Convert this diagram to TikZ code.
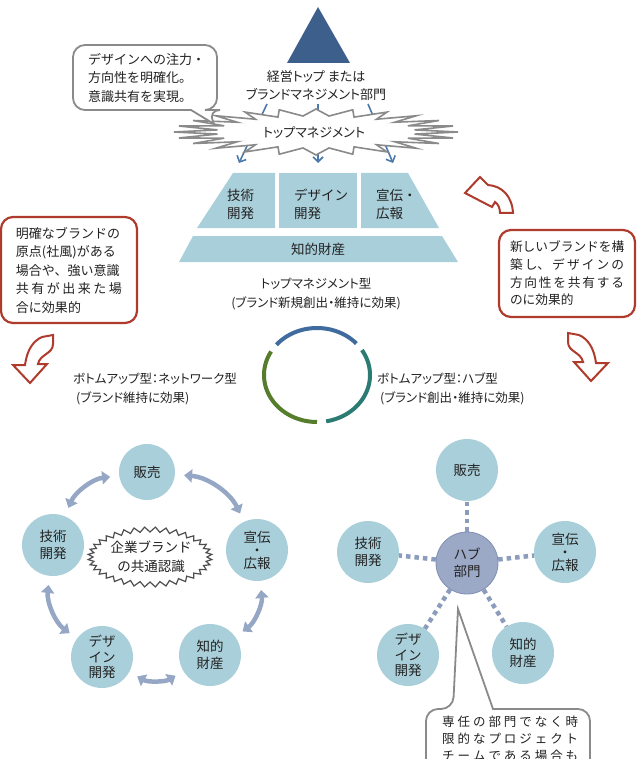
\documentclass[tikz,border=0pt]{standalone}
\usepackage{fontspec}
\setmainfont{Noto Sans CJK JP}
\newfontfamily\pfont{Noto Sans CJK JP}[RawFeature=+palt]
\usetikzlibrary{arrows.meta}
\definecolor{tri}{HTML}{3D5F8C}
\definecolor{lb}{HTML}{A9CFDA}
\definecolor{hubc}{HTML}{9BA8C6}
\definecolor{hubd}{HTML}{7F8EB2}
\definecolor{arr}{HTML}{95A7C4}
\definecolor{dotc}{HTML}{8C9CBC}
\definecolor{redb}{HTML}{AE3B2C}
\definecolor{grayb}{HTML}{8A8A8A}
\definecolor{blarr}{HTML}{4B79A9}
\definecolor{arcblue}{HTML}{3F6B9E}
\definecolor{arcteal}{HTML}{2B7B73}
\definecolor{arcgreen}{HTML}{557D2C}
\definecolor{txtc}{HTML}{222222}
\begin{document}
\begin{tikzpicture}[x=1pt,y=-1pt,
  every node/.style={text=txtc},
  btxt/.style={font=\fontsize{13}{18.5}\selectfont, inner sep=0pt, align=left},
  ptxt/.style={font=\pfont\fontsize{13}{18}\selectfont, inner sep=0pt, align=center},
  lbl/.style={font=\pfont\fontsize{12.5}{19}\selectfont, inner sep=0pt, align=left},
  cnode/.style={circle, fill=lb, draw=none, minimum size=62pt, inner sep=0pt, align=center, font=\fontsize{13.5}{17.5}\selectfont},
  hubnode/.style={cnode, fill=hubc, draw=hubd, line width=0.8pt},
  netarr/.style={draw=arr, line width=4.5pt, {Triangle[width=13pt,length=8pt]}-{Triangle[width=13pt,length=8pt]}, shorten <=9pt, shorten >=9pt},
  hubline/.style={draw=dotc, line width=4.5pt, dash pattern=on 4.5pt off 4pt},
  redbox/.style={draw=redb, line width=2.2pt, rounded corners=12pt, fill=white},
  grayline/.style={draw=grayb, line width=1.8pt, fill=white},
  curvarr/.style={draw=redb, line width=2pt, fill=white, line join=miter},
  blarrow/.style={draw=blarr, line width=1.6pt, -{Straight Barb[length=5pt,width=10pt]}},
  pyr/.style={fill=lb, draw=none}
]
\useasboundingbox (0,0) rectangle (640,759);
\clip (0,0) rectangle (640,759);

% ---------- top pyramid ----------
\fill[tri] (318,7) -- (350,63) -- (287,63) -- cycle;
\node[ptxt] (toptxt) at (316,86) {経営トップ または\\ブランドマネジメント部門};

\coordinate (a1s) at (267,104); \coordinate (a1e) at (239,163);
\coordinate (a2s) at (318,104); \coordinate (a2e) at (318,163);
\coordinate (a3s) at (368,104); \coordinate (a3e) at (393,163);
\draw[blarrow] (a1s) -- (a1e);
\draw[blarrow] (a2s) -- (a2e);
\draw[blarrow] (a3s) -- (a3e);

% starburst
\draw[grayline, line width=1.6pt] plot[samples=49, domain=0:360]
  ({316+142*cos(\x)*(1-0.3*mod(round(\x/7.5),2))},{132+23*sin(\x)*(1-0.3*mod(round(\x/7.5),2))}) -- cycle;
\node[ptxt] (tm) at (314,133) {トップマネジメント};

% top-left speech bubble
\draw[grayline, rounded corners=12pt] (140,45) -- (217,45) -- (217,110) -- (208,110)
  [sharp corners] -- (214,124) -- (191,110) [rounded corners=12pt] -- (73,110) -- (73,45) -- cycle;
\node[btxt, anchor=west] (bub1) at (88,78) {デザインへの注力・\\方向性を明確化。\\意識共有を実現。};

% pyramid blocks
\fill[pyr] (233,173) -- (275,173) -- (275,228) -- (197,228) -- cycle;
\fill[pyr] (279,173) -- (357,173) -- (357,228) -- (279,228) -- cycle;
\fill[pyr] (361,173) -- (408,173) -- (439,228) -- (361,228) -- cycle;
\fill[pyr] (193,236) -- (442,236) -- (458,262) -- (179,262) -- cycle;
\node[btxt, anchor=west, font=\fontsize{13.5}{18}\selectfont] (pg) at (227,204) {技術\\開発};
\node[btxt, anchor=west, font=\fontsize{13.5}{18}\selectfont] (pd) at (294,204) {デザイン\\開発};
\node[btxt, anchor=west, font=\fontsize{13.5}{18}\selectfont] (ps) at (376,204) {宣伝・\\広報};
\node[btxt, font=\fontsize{13.5}{18}\selectfont] (pc) at (318,249) {知的財産};

% ---------- red boxes & curved arrows ----------
\node[redbox, btxt, minimum width=136pt, minimum height=106pt, text width=106pt] (lbox) at (69,270)
 {明確なブランドの\\原点(社風)がある\\場合や、強い意識\\\makebox[106pt]{共\hfill 有\hfill が\hfill 出\hfill 来\hfill た\hfill 場}\\合に効果的};
\node[redbox, btxt, font=\fontsize{12.7}{17.7}\selectfont, minimum width=136pt, minimum height=87pt, text width=114pt] (rbox) at (567,273.5)
 {新しいブランドを構\\\makebox[114pt]{築\hfill し、\hfill デ\hfill ザ\hfill イ\hfill ン\hfill の}\\\makebox[114pt]{方\hfill 向\hfill 性\hfill を\hfill 共\hfill 有\hfill す\hfill る}\\のに効果的};

% left curved arrow
\draw[curvarr] (42,337) -- (53,335) -- (53,344) .. controls (53,354) and (40,354) .. (38,364)
  -- (47,364) -- (30,383) -- (13,365) -- (25,365) .. controls (27,350) and (33,341) .. (42,337) -- cycle;
% bottom-right curved arrow (mirror)
\begin{scope}[shift={(621,-2)}, xscale=-1]
\draw[curvarr] (42,337) -- (53,335) -- (53,344) .. controls (53,354) and (40,354) .. (38,364)
  -- (47,364) -- (30,383) -- (13,365) -- (25,365) .. controls (27,350) and (33,341) .. (42,337) -- cycle;
\end{scope}
% top-right curved arrow
\draw[curvarr] (500,213) -- (513,213) .. controls (512,196) and (502,186) .. (488,185) -- (480,177)
  -- (465,193) -- (492,207) -- (495,202) .. controls (498,204) and (500,208) .. (500,213) -- cycle;

% ---------- cycle ----------
\node[lbl, align=center] (tmtype) at (316,294) {トップマネジメント型\\(ブランド新規創出・維持に効果)};
\draw[arcblue, line width=4pt] plot[domain=42:140, samples=40] ({317+53*cos(\x)},{375-47*sin(\x)});
\draw[arcteal, line width=4pt] plot[domain=-80:32, samples=40] ({317+53*cos(\x)},{375-47*sin(\x)});
\draw[arcgreen, line width=4pt] plot[domain=150:270, samples=40] ({317+53*cos(\x)},{375-47*sin(\x)});
\node[lbl, anchor=west] (nettype) at (73,389) {ボトムアップ型：ネットワーク型\\\hspace{3pt}(ブランド維持に効果)};
\node[lbl, anchor=west] (hubtype) at (377,389) {ボトムアップ型：ハブ型\\\hspace{3pt}(ブランド創出・維持に効果)};

% ---------- network (left) ----------
\node[cnode, minimum size=56pt] (nh) at (147,472) {販売};
\node[cnode] (ng) at (53,545) {技術\\開発};
\node[cnode, font=\fontsize{13.5}{13}\selectfont] (ns) at (257,550) {宣伝\\・\\広報};
\node[cnode, font=\fontsize{13.5}{15.5}\selectfont] (nd) at (102,657) {デザ\\イン\\開発};
\node[cnode] (nc) at (210,655) {知的\\財産};
\draw[netarr] (nh) to[bend left=30] (ns);
\draw[netarr] (ns) to[bend left=30] (nc);
\draw[netarr] (nc) to[bend left=30] (nd);
\draw[netarr] (nd) to[bend left=30] (ng);
\draw[netarr] (ng) to[bend left=30] (nh);
\draw[draw=txtc!80, line width=1.2pt, fill=white] plot[samples=73, domain=0:360]
  ({150+(57+5*mod(round(\x/5),2))*cos(\x)},{557+(25+5*mod(round(\x/5),2))*sin(\x)}) -- cycle;
\node[btxt, align=center, font=\fontsize{13.5}{19}\selectfont] (cloud) at (151,557) {企業ブランド\\の共通認識};

% ---------- hub (right) ----------
\node[cnode] (hh) at (467,470) {販売};
\node[cnode] (hg) at (368,552) {技術\\開発};
\node[cnode, font=\fontsize{13.5}{13}\selectfont] (hs) at (565,552) {宣伝\\・\\広報};
\node[cnode, font=\fontsize{13.5}{15.5}\selectfont] (hd) at (408,655) {デザ\\イン\\開発};
\node[cnode] (hc) at (523,653) {知的\\財産};
\node[hubnode] (hub) at (467,563) {ハブ\\部門};
\draw[hubline] (hub) -- (hh);
\draw[hubline] (hub) -- (hg);
\draw[hubline] (hub) -- (hs);
\draw[hubline] (hub) -- (hd);
\draw[hubline] (hub) -- (hc);

% bottom callout
\draw[grayline, rounded corners=12pt] (426,790) -- (426,709) -- (453,709) [sharp corners] -- (458,609) -- (493,709)
  [rounded corners=12pt] -- (590,709) -- (590,790);
\node[btxt, anchor=north west, font=\fontsize{12.5}{17}\selectfont] (callout) at (442,716)
 {\makebox[136pt]{専\hfill 任\hfill の\hfill 部\hfill 門\hfill で\hfill な\hfill く\hfill 時}\\
  \makebox[136pt]{限\hfill 的\hfill な\hfill プ\hfill ロ\hfill ジ\hfill ェ\hfill ク\hfill ト}\\
  \makebox[136pt]{チ\hfill ー\hfill ム\hfill で\hfill あ\hfill る\hfill 場\hfill 合\hfill も}};
\end{tikzpicture}
\end{document}
